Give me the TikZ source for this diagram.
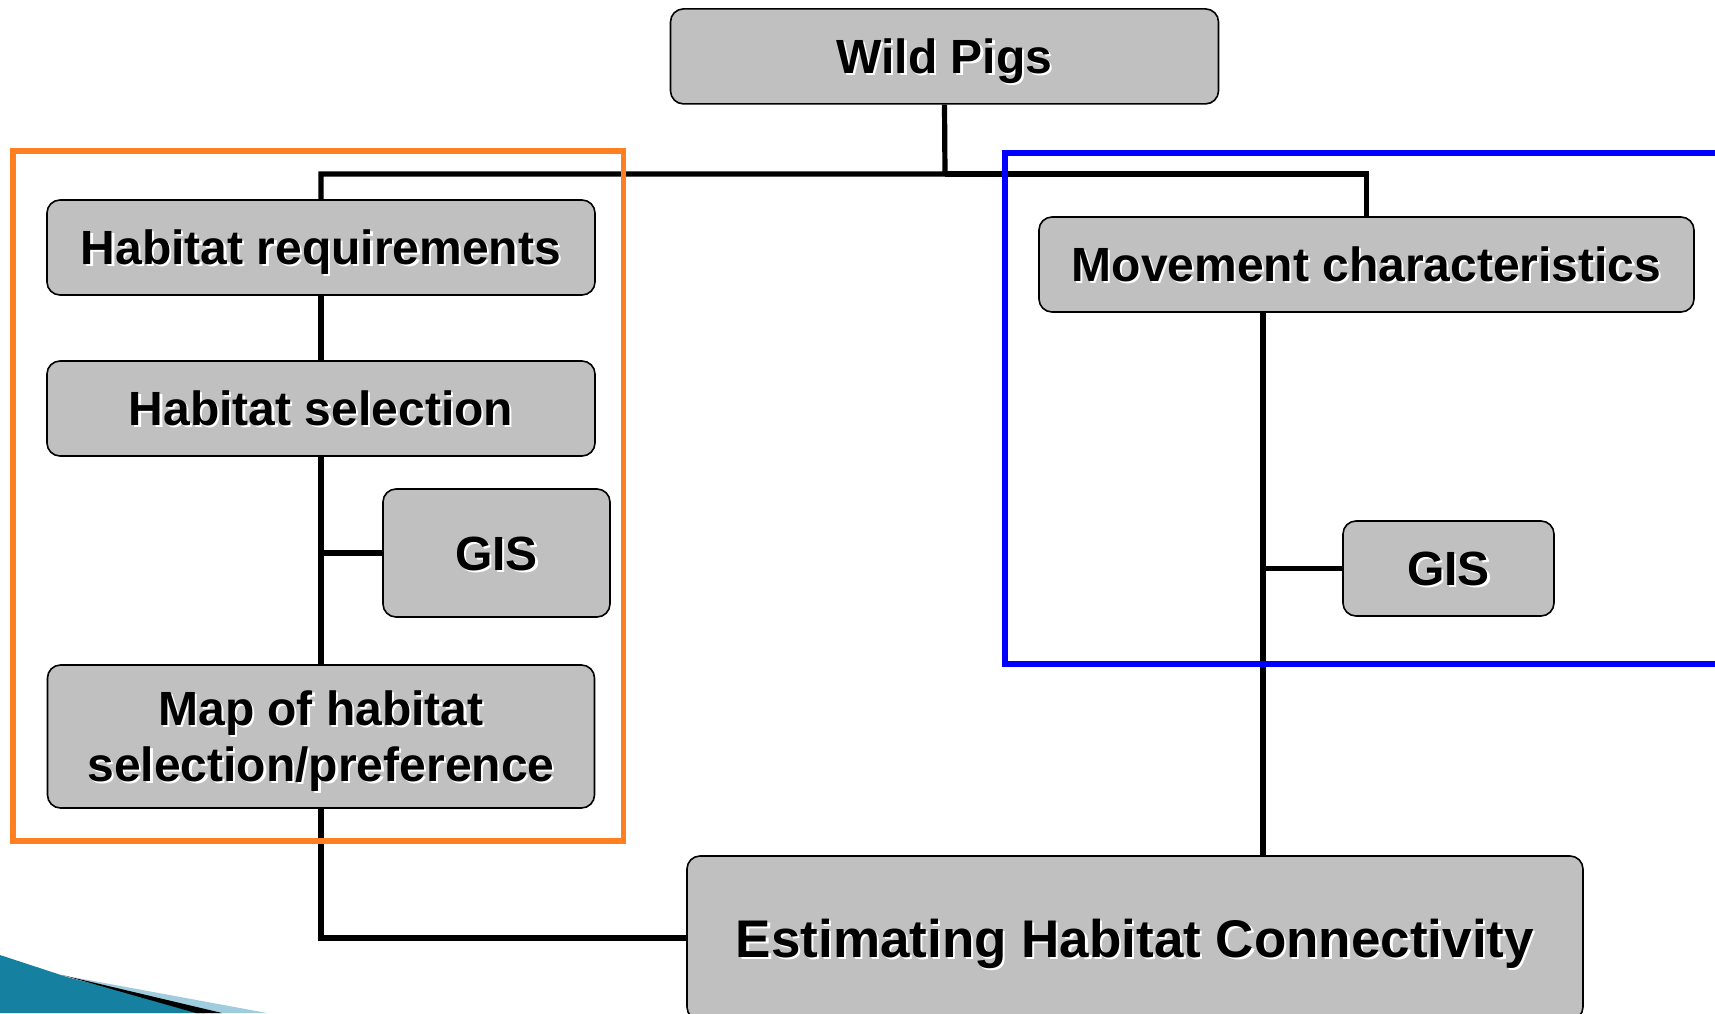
\documentclass[tikz,border=0pt]{standalone}
\usepackage{fontspec}
\setmainfont{Liberation Sans}
\usetikzlibrary{calc}
\definecolor{boxgray}{RGB}{192,192,192}
\definecolor{frameorange}{RGB}{255,128,32}
\definecolor{frameblue}{RGB}{0,0,255}
\definecolor{tealdark}{RGB}{22,128,160}
\definecolor{teallight}{RGB}{160,205,222}
\newcommand{\shd}[1]{\leavevmode\rlap{\hspace{1.1pt}\raisebox{-1.1pt}{\textcolor{white}{#1}}}#1}
\tikzset{
  pbox/.style={draw=black, line width=0.8pt, fill=boxgray, rounded corners=6.5pt,
    inner sep=0pt, align=center, text height=19pt, text depth=1.8pt,
    font=\bfseries\fontsize{24}{28}\selectfont},
  conn/.style={draw=black, line width=2.6pt},
  frame/.style={line width=2.8pt}
}
\begin{document}
\begin{tikzpicture}[x=0.5pt,y=-0.5pt]
\clip (0,0) rectangle (1715,1013);
\fill[white] (0,0) rectangle (1715,1013);
% decoration bottom-left
\fill[tealdark] (0,955) -- (67,977) -- (205,1013) -- (0,1013) -- cycle;
\fill[teallight] (72,977) -- (267,1013) -- (212,1013) -- cycle;
\fill[black] (62,975) -- (222,1013) -- (196,1013) -- cycle;
% nodes
\node[pbox, minimum width=274pt, minimum height=47.5pt] (wild) at (944.5,56.4) {\shd{Wild Pigs}};
\node[pbox, minimum width=274pt, minimum height=47.5pt] (hreq) at (321,247.5) {\shd{Habitat requirements}};
\node[pbox, minimum width=274pt, minimum height=47.5pt] (hsel) at (321,408.5) {\shd{Habitat selection}};
\node[pbox, minimum width=113.5pt, minimum height=64pt] (gisL) at (496.5,553) {\shd{GIS}};
\node[pbox, minimum width=273.5pt, minimum height=71.5pt, text height=50pt, text depth=5pt] (map) at (321,736.5) {\shd{Map of habitat}\\\shd{selection/preference}};
\node[pbox, minimum width=327.5pt, minimum height=47.5pt] (move) at (1366.5,264.5) {\shd{Movement characteristics}};
\node[pbox, minimum width=105.5pt, minimum height=47.5pt] (gisR) at (1448.5,568.5) {\shd{GIS}};
\node[pbox, minimum width=448pt, minimum height=82pt, text height=21pt, text depth=2pt, font=\bfseries\fontsize{26.5}{30}\selectfont] (est) at (1135,938) {\shd{Estimating Habitat Connectivity}};
% connectors
\coordinate (jT) at (945,174);
\coordinate (mvx) at (1263,0);
\draw[conn] (wild.south) -- (jT) -| (hreq.north);
\draw[conn] (jT) -| (move.north);
\draw[conn] (hreq.south) -- (hsel.north);
\draw[conn] (hsel.south) -- (map.north);
\coordinate (bL) at (hsel.south |- gisL.west);
\draw[conn] (bL) -- (gisL.west);
\draw[conn] (map.south) |- (est.west);
\draw[conn] (move.south -| mvx) -- (est.north -| mvx);
\coordinate (bR) at (mvx |- gisR.west);
\draw[conn] (bR) -- (gisR.west);
% frames
\draw[frame, frameorange] (13,151) rectangle (623.5,841);
\draw[frame, frameblue] (1005,153) rectangle (1740,664);
\end{tikzpicture}
\end{document}
